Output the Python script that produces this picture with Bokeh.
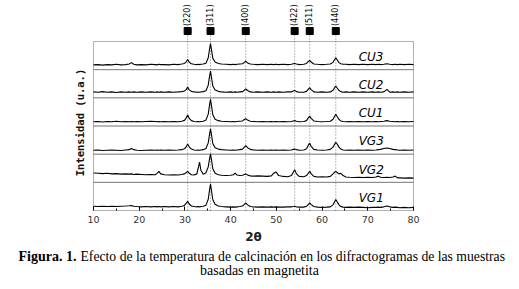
import numpy as np
from bokeh.plotting import figure
from bokeh.models import Range1d, FixedTicker, BoxAnnotation
from bokeh.core.properties import value
from bokeh.embed import file_html
from bokeh.resources import INLINE

# ---------------- data ----------------
two_theta = [
    10, 11, 12, 13, 14, 15, 16, 17,
    17.8, 18.3, 18.8, 19.5,
    20.5, 21.5, 22.5, 23.5,
    23.9, 24.3, 24.7,
    25.5, 26.5, 27.5, 28.5, 29.3,
    29.9, 30.3, 30.6, 30.9, 31.4,
    32.0, 32.6, 32.9, 33.2, 33.5, 34.0,
    34.6, 35.1, 35.4, 35.6, 35.8, 36.1, 36.6, 37.3,
    38.0, 39.0, 40.0,
    40.6, 41.0, 41.4, 42.0,
    42.6, 43.0, 43.3, 43.7, 44.3,
    45.0, 46.0, 47.0, 48.0,
    48.9, 49.4, 49.9, 50.5,
    51.5, 52.5,
    53.3, 53.7, 54.0, 54.4, 55.0,
    56.0, 56.6, 57.0, 57.3, 57.6, 58.2,
    59.0, 60.0, 61.0,
    61.8, 62.4, 62.8, 63.0, 63.3, 63.7, 64.1, 64.6,
    65.2, 66.0, 67.0, 68.0, 69.0, 70.0, 71.0,
    71.8, 72.3, 72.8,
    73.5, 74.2, 74.8,
    75.5, 76.0, 76.5,
    77.0, 78.0, 79.0, 80.0,
]

samples = ["CU3", "CU2", "CU1", "VG3", "VG2", "VG1"]

cu3 = [
    0.17, 0.18, 0.16, 0.18, 0.17, 0.19, 0.17, 0.18,
    0.20, 0.25, 0.19, 0.17,
    0.18, 0.17, 0.19, 0.18,
    0.17, 0.19, 0.18,
    0.18, 0.17, 0.19, 0.18, 0.20,
    0.22, 0.28, 0.36, 0.27, 0.21,
    0.19, 0.18, 0.19, 0.18, 0.19, 0.20,
    0.23, 0.42, 0.75, 0.93, 0.72, 0.40, 0.27, 0.22,
    0.20, 0.19, 0.18,
    0.19, 0.18, 0.19, 0.20,
    0.21, 0.26, 0.30, 0.24, 0.20,
    0.19, 0.18, 0.19, 0.18,
    0.19, 0.18, 0.19, 0.18,
    0.19, 0.18,
    0.19, 0.21, 0.22, 0.20, 0.18,
    0.19, 0.22, 0.29, 0.33, 0.27, 0.20,
    0.19, 0.18, 0.19,
    0.20, 0.26, 0.37, 0.42, 0.35, 0.25, 0.21, 0.19,
    0.19, 0.18, 0.19, 0.18, 0.19, 0.18, 0.19,
    0.18, 0.19, 0.18,
    0.19, 0.21, 0.19,
    0.18, 0.19, 0.18,
    0.19, 0.18, 0.19, 0.18,
]

cu2 = [
    0.21, 0.20, 0.22, 0.20, 0.21, 0.19, 0.21, 0.20,
    0.21, 0.20, 0.21, 0.20,
    0.21, 0.20, 0.21, 0.20,
    0.21, 0.20, 0.21,
    0.20, 0.21, 0.20, 0.21, 0.22,
    0.24, 0.30, 0.38, 0.29, 0.23,
    0.21, 0.20, 0.21, 0.20, 0.21, 0.22,
    0.25, 0.45, 0.78, 0.95, 0.74, 0.42, 0.28, 0.23,
    0.21, 0.20, 0.21,
    0.20, 0.21, 0.20, 0.21,
    0.22, 0.27, 0.32, 0.26, 0.21,
    0.20, 0.21, 0.20, 0.21,
    0.20, 0.21, 0.20, 0.21,
    0.20, 0.21,
    0.21, 0.24, 0.26, 0.22, 0.20,
    0.20, 0.23, 0.31, 0.36, 0.29, 0.21,
    0.20, 0.21, 0.20,
    0.21, 0.27, 0.37, 0.42, 0.35, 0.26, 0.22, 0.20,
    0.21, 0.20, 0.21, 0.20, 0.21, 0.20, 0.21,
    0.20, 0.21, 0.20,
    0.21, 0.30, 0.20,
    0.21, 0.20, 0.21,
    0.20, 0.21, 0.20, 0.21,
]

cu1 = [
    0.15, 0.16, 0.14, 0.16, 0.15, 0.17, 0.15, 0.16,
    0.15, 0.16, 0.15, 0.16,
    0.15, 0.16, 0.17, 0.16,
    0.15, 0.16, 0.15,
    0.16, 0.15, 0.16, 0.15, 0.17,
    0.20, 0.29, 0.39, 0.28, 0.19,
    0.16, 0.15, 0.16, 0.15, 0.16, 0.17,
    0.21, 0.42, 0.77, 0.95, 0.73, 0.40, 0.24, 0.19,
    0.17, 0.16, 0.15,
    0.16, 0.15, 0.16, 0.17,
    0.18, 0.23, 0.26, 0.21, 0.17,
    0.16, 0.15, 0.16, 0.15,
    0.16, 0.15, 0.16, 0.15,
    0.16, 0.15,
    0.16, 0.18, 0.19, 0.17, 0.15,
    0.16, 0.19, 0.29, 0.35, 0.27, 0.18,
    0.16, 0.15, 0.16,
    0.17, 0.24, 0.36, 0.42, 0.34, 0.23, 0.18, 0.16,
    0.15, 0.16, 0.15, 0.16, 0.15, 0.16, 0.15,
    0.16, 0.15, 0.16,
    0.17, 0.19, 0.17,
    0.16, 0.15, 0.16,
    0.15, 0.16, 0.15, 0.16,
]

vg3 = [
    0.14, 0.15, 0.13, 0.14, 0.15, 0.14, 0.13, 0.15,
    0.16, 0.20, 0.16, 0.14,
    0.13, 0.14, 0.15, 0.14,
    0.15, 0.14, 0.15,
    0.14, 0.15, 0.14, 0.15, 0.16,
    0.19, 0.27, 0.36, 0.27, 0.18,
    0.15, 0.14, 0.15, 0.14, 0.15, 0.16,
    0.20, 0.40, 0.72, 0.90, 0.70, 0.38, 0.23, 0.18,
    0.16, 0.15, 0.14,
    0.15, 0.14, 0.15, 0.16,
    0.18, 0.25, 0.30, 0.23, 0.17,
    0.15, 0.14, 0.15, 0.14,
    0.15, 0.14, 0.15, 0.14,
    0.15, 0.14,
    0.15, 0.17, 0.18, 0.16, 0.14,
    0.15, 0.19, 0.32, 0.39, 0.28, 0.17,
    0.15, 0.14, 0.15,
    0.17, 0.25, 0.37, 0.42, 0.36, 0.25, 0.18, 0.15,
    0.14, 0.15, 0.14, 0.15, 0.14, 0.15, 0.14,
    0.15, 0.16, 0.17,
    0.20, 0.22, 0.20,
    0.17, 0.16, 0.15,
    0.14, 0.15, 0.14, 0.15,
]

vg2 = [
    0.33, 0.32, 0.31, 0.32, 0.30, 0.31, 0.29, 0.30,
    0.29, 0.30, 0.28, 0.29,
    0.28, 0.27, 0.28, 0.27,
    0.32, 0.39, 0.30,
    0.27, 0.26, 0.27, 0.26, 0.28,
    0.30, 0.35, 0.39, 0.33, 0.27,
    0.26, 0.30, 0.50, 0.72, 0.42, 0.29,
    0.34, 0.55, 0.85, 1.00, 0.82, 0.48, 0.32, 0.27,
    0.25, 0.24, 0.25,
    0.27, 0.33, 0.26, 0.24,
    0.25, 0.28, 0.30, 0.26, 0.23,
    0.22, 0.23, 0.22, 0.21,
    0.23, 0.32, 0.37, 0.24,
    0.21, 0.20,
    0.24, 0.36, 0.45, 0.30, 0.21,
    0.20, 0.24, 0.33, 0.39, 0.31, 0.21,
    0.19, 0.20, 0.19,
    0.21, 0.30, 0.37, 0.39, 0.35, 0.30, 0.32, 0.24,
    0.19, 0.18, 0.17, 0.18, 0.17, 0.18, 0.17,
    0.19, 0.22, 0.18,
    0.17, 0.18, 0.17,
    0.19, 0.22, 0.16,
    0.16, 0.15, 0.16, 0.15,
]

vg1 = [
    0.15, 0.14, 0.15, 0.14, 0.15, 0.14, 0.15, 0.16,
    0.17, 0.18, 0.15, 0.14,
    0.13, 0.14, 0.13, 0.14,
    0.13, 0.14, 0.13,
    0.14, 0.13, 0.14, 0.13, 0.15,
    0.18, 0.26, 0.33, 0.24, 0.16,
    0.14, 0.13, 0.14, 0.13, 0.14, 0.15,
    0.19, 0.40, 0.75, 0.94, 0.72, 0.38, 0.22, 0.16,
    0.14, 0.13, 0.12,
    0.13, 0.12, 0.13, 0.14,
    0.16, 0.22, 0.27, 0.20, 0.14,
    0.13, 0.12, 0.13, 0.12,
    0.13, 0.12, 0.13, 0.12,
    0.12, 0.13,
    0.13, 0.14, 0.15, 0.13, 0.12,
    0.12, 0.15, 0.22, 0.27, 0.21, 0.14,
    0.12, 0.11, 0.12,
    0.13, 0.20, 0.33, 0.39, 0.31, 0.20, 0.14, 0.12,
    0.11, 0.12, 0.11, 0.12, 0.11, 0.10, 0.11,
    0.11, 0.12, 0.11,
    0.13, 0.16, 0.13,
    0.11, 0.12, 0.11,
    0.10, 0.11, 0.10, 0.11,
]

series = [cu3, cu2, cu1, vg3, vg2, vg1]

peak_positions = [30.6, 35.6, 43.3, 54.0, 57.3, 63.0]
peak_labels = ["(220)", "(311)", "(400)", "(422)", "(511)", "(440)"]

x_ticks = [10, 20, 30, 40, 50, 60, 70, 80]
x_minor_ticks = [15, 25, 35, 45, 55, 65, 75]

x_label = "2θ"
y_label = "Intensidad (u.a.)"
caption_bold = "Figura. 1."
caption_rest = "Efecto de la temperatura de calcinación en los difractogramas de las muestras"
caption_line2 = "basadas en magnetita"

for s in series:
    assert len(s) == len(two_theta)

# ---------------- layout (pixel geometry of the panel stack) ----------------
W, H = 519, 289
FX0, FX1 = 93, 413        # left/right pixel of the panel box
FY_TOP, FY_BOT = 41, 210  # top/bottom pixel of the panel box
X0, X1 = 10, 80
N = len(samples)
xs = (X1 - X0) / (FX1 - FX0)          # data per pixel (x)
ys = N / (FY_BOT - FY_TOP)            # data per pixel (y)


def px_x(px):
    return X0 + (px - FX0) * xs


def px_y(py):
    return (FY_BOT - py) * ys


DOT = "#7a7a7a"

p = figure(width=W, height=H,
           x_range=Range1d(px_x(0), px_x(W)), y_range=Range1d(px_y(H), px_y(0)),
           output_backend="svg", toolbar_location=None, y_axis_location=None,
           min_border_left=0, min_border_right=0, min_border_top=0, min_border_bottom=0)
p.xgrid.visible = False
p.ygrid.visible = False
p.outline_line_color = None
p.background_fill_color = "white"
p.border_fill_color = "white"

# x axis drawn at the bottom of the panel stack
xa = p.xaxis[0]
xa.fixed_location = 0
xa.ticker = FixedTicker(ticks=x_ticks, minor_ticks=x_minor_ticks)
xa.axis_line_color = None
xa.major_tick_in = 4
xa.major_tick_out = 0
xa.minor_tick_in = 2
xa.minor_tick_out = 0
xa.major_tick_line_color = "black"
xa.minor_tick_line_color = "black"
xa.major_label_text_font = "DejaVu Sans"
xa.major_label_text_font_size = "9.5px"
xa.major_label_text_color = "#333333"
xa.major_label_standoff = 5

# dotted reflection guides (through all panels up to the markers)
p.segment(x0=peak_positions, y0=[0] * 6, x1=peak_positions, y1=[px_y(34)] * 6,
          line_color=DOT, line_dash="1 2", line_width=1)

# patterns
for i, yv in enumerate(series):
    offset = N - 1 - i
    p.line(two_theta, [v + offset for v in yv], line_color="black", line_width=1.1)

# panel boxes
for k in range(N):
    p.add_layout(BoxAnnotation(left=X0, right=X1, bottom=k, top=k + 1,
                               fill_color=None, line_color="black", line_width=1))

# sample names
p.text(x=[68.0] * N, y=[N - 1 - i + 0.45 for i in range(N)], text=samples,
       text_font=value("DejaVu Sans"), text_font_size="12px", text_font_style="italic",
       text_align="left", text_baseline="middle", text_color="black")

# reflection markers and Miller indices
p.scatter(peak_positions, [px_y(30.5)] * 6, marker="square", size=7,
          fill_color="black", line_color="black")
p.text(x=peak_positions, y=[px_y(25.5)] * 6, text=peak_labels, angle=np.pi / 2,
       text_font=value("DejaVu Sans"), text_font_size="8px",
       text_align="left", text_baseline="middle", text_color="black")

# axis titles
p.text(x=[px_x(253)], y=[px_y(236.5)], text=[x_label],
       text_font=value("DejaVu Sans"), text_font_size="12px", text_font_style="bold",
       text_align="center", text_baseline="middle", text_color="#222222")
p.text(x=[px_x(79)], y=[px_y(122)], text=[y_label], angle=np.pi / 2,
       text_font=value("DejaVu Sans Mono"), text_font_size="10.5px", text_font_style="bold",
       text_align="center", text_baseline="middle", text_color="#111111")

# caption
CAP = value("Liberation Serif")
p.text(x=[px_x(18)], y=[px_y(256)], text=[caption_bold], text_font=CAP,
       text_font_size="14px", text_font_style="bold", text_align="left",
       text_baseline="middle", text_color="black")
p.text(x=[px_x(80)], y=[px_y(256)], text=[caption_rest], text_font=CAP,
       text_font_size="13.7px", text_align="left",
       text_baseline="middle", text_color="black")
p.text(x=[px_x(259)], y=[px_y(270)], text=[caption_line2], text_font=CAP,
       text_font_size="14px", text_align="center",
       text_baseline="middle", text_color="black")

open("out.html", "w").write(file_html(p, INLINE))
